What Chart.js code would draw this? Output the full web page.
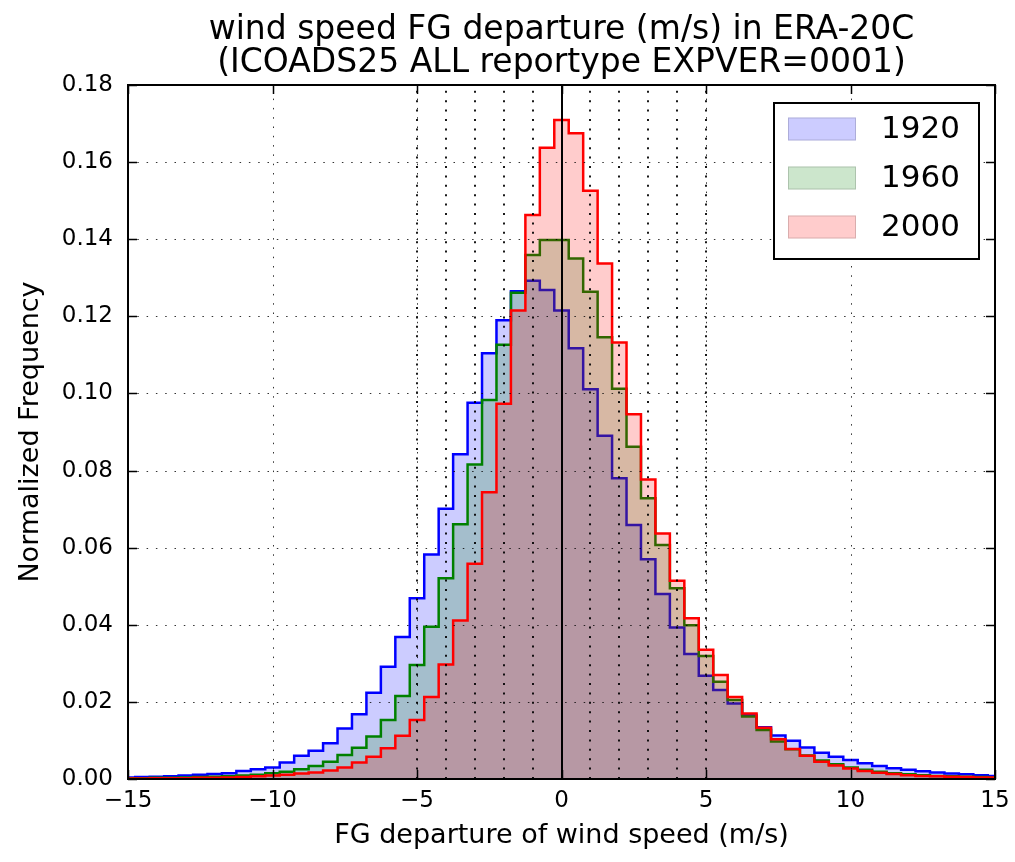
<!DOCTYPE html>
<html>
<head>
<meta charset="utf-8">
<script src="https://cdn.jsdelivr.net/npm/chart.js@4.4.1/dist/chart.umd.min.js"></script>
<style>
html,body{margin:0;padding:0;background:#ffffff;}
#wrap{width:1015px;height:862px;position:relative;}
</style>
</head>
<body>
<div id="wrap"><canvas id="c" width="1015" height="862"></canvas></div>
<script>
// ---- data ----
const binCenters = [-15,-14.5,-14,-13.5,-13,-12.5,-12,-11.5,-11,-10.5,-10,-9.5,-9,-8.5,-8,-7.5,-7,-6.5,-6,-5.5,-5,-4.5,-4,-3.5,-3,-2.5,-2,-1.5,-1,-0.5,0,0.5,1,1.5,2,2.5,3,3.5,4,4.5,5,5.5,6,6.5,7,7.5,8,8.5,9,9.5,10,10.5,11,11.5,12,12.5,13,13.5,14,14.5,15];

const freq1920 = [0.0004,0.0005,0.0006,0.0007,0.0009,0.0011,0.0013,0.0015,0.0021,0.0025,0.0030,0.0043,0.0060,0.0073,0.0093,0.0131,0.0168,0.0224,0.0291,0.0368,0.0469,0.0582,0.0701,0.0842,0.0976,0.1104,0.1190,0.1265,0.1292,0.1268,0.1215,0.1117,0.1011,0.0890,0.0780,0.0659,0.0570,0.0480,0.0393,0.0324,0.0268,0.0231,0.0196,0.0166,0.0134,0.0113,0.0099,0.0082,0.0068,0.0058,0.0049,0.0041,0.0034,0.0028,0.0024,0.0020,0.0017,0.0014,0.0012,0.0010,0.0008];

const freq1960 = [0.0002,0.0002,0.0003,0.0003,0.0004,0.0005,0.0006,0.0007,0.0009,0.0011,0.0015,0.0019,0.0025,0.0034,0.0045,0.0062,0.0081,0.0110,0.0153,0.0215,0.0296,0.0395,0.0521,0.0661,0.0816,0.0983,0.1126,0.1261,0.1359,0.1398,0.1398,0.1350,0.1264,0.1146,0.1012,0.0862,0.0728,0.0607,0.0495,0.0399,0.0319,0.0252,0.0205,0.0162,0.0127,0.0097,0.0077,0.0061,0.0048,0.0038,0.0030,0.0024,0.0019,0.0015,0.0012,0.0010,0.0008,0.0007,0.0006,0.0005,0.0004];

const freq2000 = [0.0001,0.0001,0.0002,0.0002,0.0002,0.0003,0.0003,0.0004,0.0005,0.0007,0.0009,0.0011,0.0014,0.0017,0.0022,0.0030,0.0043,0.0058,0.0080,0.0112,0.0153,0.0213,0.0297,0.0411,0.0558,0.0744,0.0973,0.1215,0.1463,0.1637,0.1709,0.1675,0.1526,0.1337,0.1132,0.0946,0.0777,0.0637,0.0514,0.0417,0.0335,0.0270,0.0213,0.0170,0.0133,0.0103,0.0078,0.0060,0.0045,0.0035,0.0027,0.0021,0.0016,0.0013,0.0010,0.0008,0.0007,0.0006,0.0005,0.0004,0.0004];

const seriesLabels = ['1920', '1960', '2000'];
const seriesValues = [freq1920, freq1960, freq2000];
const lineColors = ['#0000ff', '#008000', '#ff0000'];
const fillColors = ['rgba(0,0,255,0.2)', 'rgba(0,128,0,0.2)', 'rgba(255,0,0,0.2)'];

const xMin = -15, xMax = 15, xStep = 5;
const yMin = 0, yMax = 0.18, yStep = 0.02;
const refLines = [-5, -4, -3, -2, -1, 1, 2, 3, 4, 5];
const zeroLine = 0;

const titleLines = ['wind speed FG departure (m/s) in ERA-20C', '(ICOADS25 ALL reportype EXPVER=0001)'];
const xTitle = 'FG departure of wind speed (m/s)';
const yTitle = 'Normalized Frequency';

const FONT = "'DejaVu Sans', 'Liberation Sans', sans-serif";

// ---- build datasets ----
const datasets = seriesValues.map((vals, s) => ({
  label: seriesLabels[s],
  data: vals.map((v, i) => ({ x: binCenters[i], y: v })),
  stepped: 'middle',
  borderColor: lineColors[s],
  backgroundColor: fillColors[s],
  borderWidth: 2.5,
  pointRadius: 0,
  fill: 'origin',
  order: seriesValues.length - s
}));

function minusFmt(v) {
  return v < 0 ? '\u2212' + Math.abs(v) : String(v);
}

const mplDecor = {
  id: 'mplDecor',
  afterDatasetsDraw(chart) {
    const { ctx, chartArea: a, scales } = chart;
    const x = scales.x, y = scales.y;
    ctx.save();
    ctx.beginPath();
    ctx.rect(a.left, a.top, a.right - a.left, a.bottom - a.top);
    ctx.clip();
    // dotted grid
    ctx.strokeStyle = 'rgba(0,0,0,0.8)';
    ctx.lineWidth = 1;
    ctx.setLineDash([1.5, 7.8]);
    x.ticks.forEach(t => {
      const px = Math.round(x.getPixelForValue(t.value)) + 0.5;
      ctx.beginPath(); ctx.moveTo(px, a.bottom); ctx.lineTo(px, a.top); ctx.stroke();
    });
    y.ticks.forEach(t => {
      const py = Math.round(y.getPixelForValue(t.value)) + 0.5;
      ctx.beginPath(); ctx.moveTo(a.left, py); ctx.lineTo(a.right, py); ctx.stroke();
    });
    // dotted reference lines
    ctx.strokeStyle = '#000';
    ctx.lineWidth = 1.8;
    ctx.setLineDash([2, 7.4]);
    refLines.forEach(v => {
      const px = Math.round(x.getPixelForValue(v));
      ctx.beginPath(); ctx.moveTo(px, a.bottom); ctx.lineTo(px, a.top); ctx.stroke();
    });
    // solid zero line
    ctx.setLineDash([]);
    ctx.lineWidth = 2;
    const pz = Math.round(x.getPixelForValue(zeroLine));
    ctx.beginPath(); ctx.moveTo(pz, a.bottom); ctx.lineTo(pz, a.top); ctx.stroke();
    ctx.restore();

    // frame and inward ticks
    ctx.save();
    ctx.strokeStyle = '#000';
    ctx.lineWidth = 2;
    ctx.strokeRect(a.left, a.top, a.right - a.left, a.bottom - a.top);
    ctx.lineWidth = 1.5;
    const tl = 9;
    x.ticks.forEach(t => {
      const px = Math.round(x.getPixelForValue(t.value)) + 0.5;
      ctx.beginPath();
      ctx.moveTo(px, a.bottom); ctx.lineTo(px, a.bottom - tl);
      ctx.moveTo(px, a.top); ctx.lineTo(px, a.top + tl);
      ctx.stroke();
    });
    y.ticks.forEach(t => {
      const py = Math.round(y.getPixelForValue(t.value)) + 0.5;
      ctx.beginPath();
      ctx.moveTo(a.left, py); ctx.lineTo(a.left + tl, py);
      ctx.moveTo(a.right, py); ctx.lineTo(a.right - tl, py);
      ctx.stroke();
    });
    ctx.restore();
  },
  afterDraw(chart) {
    // legend inside the axes, upper right
    const { ctx, chartArea: a } = chart;
    const boxW = 205, boxH = 156;
    const bx = a.right - 16 - boxW, by = a.top + 18;
    ctx.save();
    ctx.fillStyle = '#ffffff';
    ctx.fillRect(bx, by, boxW, boxH);
    ctx.strokeStyle = '#000';
    ctx.lineWidth = 2;
    ctx.strokeRect(bx, by, boxW, boxH);
    ctx.font = "31px " + FONT;
    ctx.textBaseline = 'middle';
    ctx.textAlign = 'left';
    chart.data.datasets.forEach((ds, i) => {
      const rowY = by + 26 + i * 49;
      ctx.fillStyle = fillColors[i];
      ctx.fillRect(bx + 14, rowY - 11.5, 68, 23);
      ctx.strokeStyle = 'rgba(0,0,0,0.15)';
      ctx.lineWidth = 1;
      ctx.strokeRect(bx + 14.5, rowY - 11, 67, 22);
      ctx.fillStyle = '#000';
      ctx.fillText(ds.label, bx + 107, rowY + 1);
    });
    ctx.restore();
  }
};

Chart.defaults.font.family = FONT;
Chart.defaults.color = '#000';

new Chart(document.getElementById('c'), {
  type: 'line',
  data: { datasets },
  options: {
    responsive: false,
    animation: false,
    devicePixelRatio: 1,
    layout: { padding: { top: 0, right: 20, bottom: 0, left: 0 } },
    plugins: {
      legend: { display: false },
      tooltip: { enabled: false },
      filler: { drawTime: 'beforeDatasetDraw' },
      title: { display: false }
    },
    scales: {
      x: {
        type: 'linear',
        position: 'bottom',
        min: xMin, max: xMax,
        grid: { display: false, drawTicks: false },
        border: { display: false },
        ticks: {
          stepSize: xStep,
          autoSkip: false,
          maxRotation: 0,
          padding: 8,
          font: { size: 23, family: FONT },
          color: '#000',
          callback: v => minusFmt(v)
        },
        title: {
          display: true,
          text: xTitle,
          font: { size: 27, family: FONT },
          color: '#000',
          padding: { top: 0, bottom: 10 }
        },
        afterFit(scale) { scale.height = 83; scale.paddingLeft = 0; scale.paddingRight = 0; }
      },
      xTop: {
        type: 'linear',
        axis: 'x',
        position: 'top',
        min: xMin, max: xMax,
        grid: { display: false, drawTicks: false },
        border: { display: false },
        ticks: { display: false },
        title: {
          display: true,
          text: titleLines,
          font: { size: 33, family: FONT, lineHeight: 1.0 },
          color: '#000',
          padding: { top: 14, bottom: 0 }
        },
        afterFit(scale) { scale.height = 85; scale.paddingLeft = 0; scale.paddingRight = 0; }
      },
      y: {
        type: 'linear',
        min: yMin, max: yMax,
        grid: { display: false, drawTicks: false },
        border: { display: false },
        ticks: {
          stepSize: yStep,
          autoSkip: false,
          padding: 15,
          font: { size: 23, family: FONT },
          color: '#000',
          callback: v => Number(v).toFixed(2)
        },
        title: {
          display: true,
          text: yTitle,
          font: { size: 27, family: FONT },
          color: '#000',
          padding: { top: 15, bottom: 0 }
        },
        afterFit(scale) { scale.width = 128; scale.paddingTop = 0; scale.paddingBottom = 0; }
      }
    }
  },
  plugins: [mplDecor]
});
</script>
</body>
</html>
